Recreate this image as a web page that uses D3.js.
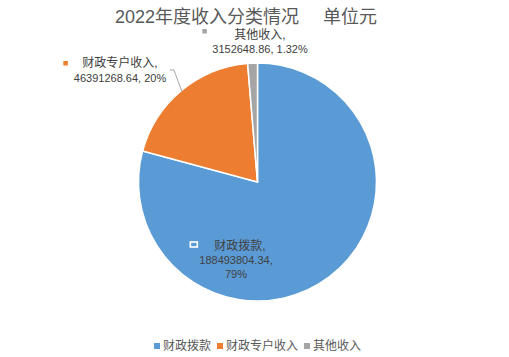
<!DOCTYPE html>
<html><head><meta charset="utf-8">
<script src="https://cdn.jsdelivr.net/npm/d3@7"></script>
<style>
html,body{margin:0;padding:0;background:#fff;}
text{font-family:"Liberation Sans","Noto Sans CJK SC",sans-serif;}
</style></head>
<body><svg id="c" width="509" height="357"></svg>
<script>
const titleMain = "2022年度收入分类情况";
const titleUnit = "单位元";
const categories = ["财政拨款", "财政专户收入", "其他收入"];
const values = [188493804.34, 46391268.64, 3152648.86];
const valueLabels = ["188493804.34", "46391268.64", "3152648.86"];
const percentLabels = ["79%", "20%", "1.32%"];
const colors = ["#5B9BD5", "#ED7D31", "#A5A5A5"];

const svg = d3.select("#c");
const cx = 257.5, cy = 182, R = 119;

const tt = svg.append("text").attr("x", 246).attr("y", 23).attr("text-anchor", "middle")
  .attr("font-size", 18).attr("fill", "#595959");
tt.append("tspan").text(titleMain);
tt.append("tspan").attr("dx", 24).text(titleUnit);

const data = categories.map((c, i) => ({cat: c, value: values[i], vl: valueLabels[i], pl: percentLabels[i], color: colors[i]}));
const pie = d3.pie().sort(null).value(d => d.value).startAngle(0).endAngle(2 * Math.PI);
const arcs = pie(data);
const arc = d3.arc().innerRadius(0).outerRadius(R);
const g = svg.append("g").attr("transform", `translate(${cx},${cy})`);
g.selectAll("path").data(arcs).join("path")
  .attr("d", arc).attr("fill", d => d.data.color)
  .attr("stroke", "#fff").attr("stroke-width", 1.5);

const tcol = "#404040";
// label layouts (offsets from pie center)
const layouts = [
  {dx: -21.5, dy: 68, lh: 14, shift1: 4, lines: d => [d.vl + ",", d.pl], marker: "hollow", mgap: 24, mdy: -8},
  {dx: -137.5, dy: -115, lh: 15, shift1: 0, lines: d => [d.vl + ", " + d.pl], marker: "solid", mgap: 19, mdy: -6},
  {dx: 2.5, dy: -143, lh: 14, shift1: 0, lines: d => [d.vl + ", " + d.pl], marker: "solid", mgap: 32, mdy: -10}
];
arcs.forEach((a, i) => {
  const L = layouts[i];
  const x = cx + L.dx, y0 = cy + L.dy;
  const t1 = svg.append("text").attr("text-anchor", "middle").attr("font-size", 12).attr("fill", tcol)
    .attr("x", x + L.shift1).attr("y", y0).text(a.data.cat + ",");
  const rest = svg.append("text").attr("text-anchor", "middle").attr("font-size", 11).attr("fill", tcol);
  L.lines(a.data).forEach((ln, j) => {
    rest.append("tspan").attr("x", x).attr("y", y0 + (j + 1) * L.lh).text(ln);
  });
  const w = t1.node().getComputedTextLength();
  const textStart = x + L.shift1 - w / 2;
  const my = y0 + L.mdy;
  if (L.marker === "hollow") {
    svg.append("rect").attr("x", textStart - L.mgap).attr("y", my).attr("width", 7).attr("height", 5)
      .attr("fill", a.data.color).attr("stroke", "#fff").attr("stroke-width", 1.6);
  } else {
    svg.append("rect").attr("x", textStart - L.mgap).attr("y", my).attr("width", 4.5).attr("height", 4.5).attr("fill", a.data.color);
  }
});

// leader line for 财政专户收入
{
  const a = arcs[1];
  const m = (a.startAngle + a.endAngle) / 2;
  const px = cx + Math.sin(m) * (R - 1), py = cy - Math.cos(m) * (R - 1);
  svg.append("path").attr("d", `M${px},${py}L${px - 8},${cy - 112}L${px - 12},${cy - 112}`)
    .attr("fill", "none").attr("stroke", "#A6A6A6").attr("stroke-width", 1);
}

// legend
const lg = svg.append("g");
let lx = 154;
const ly = 345;
categories.forEach((c, i) => {
  lg.append("rect").attr("x", lx).attr("y", ly - 2).attr("width", 6).attr("height", 6).attr("fill", colors[i]);
  const t = lg.append("text").attr("x", lx + 9).attr("y", ly + 5).attr("font-size", 12).attr("fill", "#595959").text(c);
  lx += 9 + t.node().getComputedTextLength() + 6;
});
</script></body></html>
